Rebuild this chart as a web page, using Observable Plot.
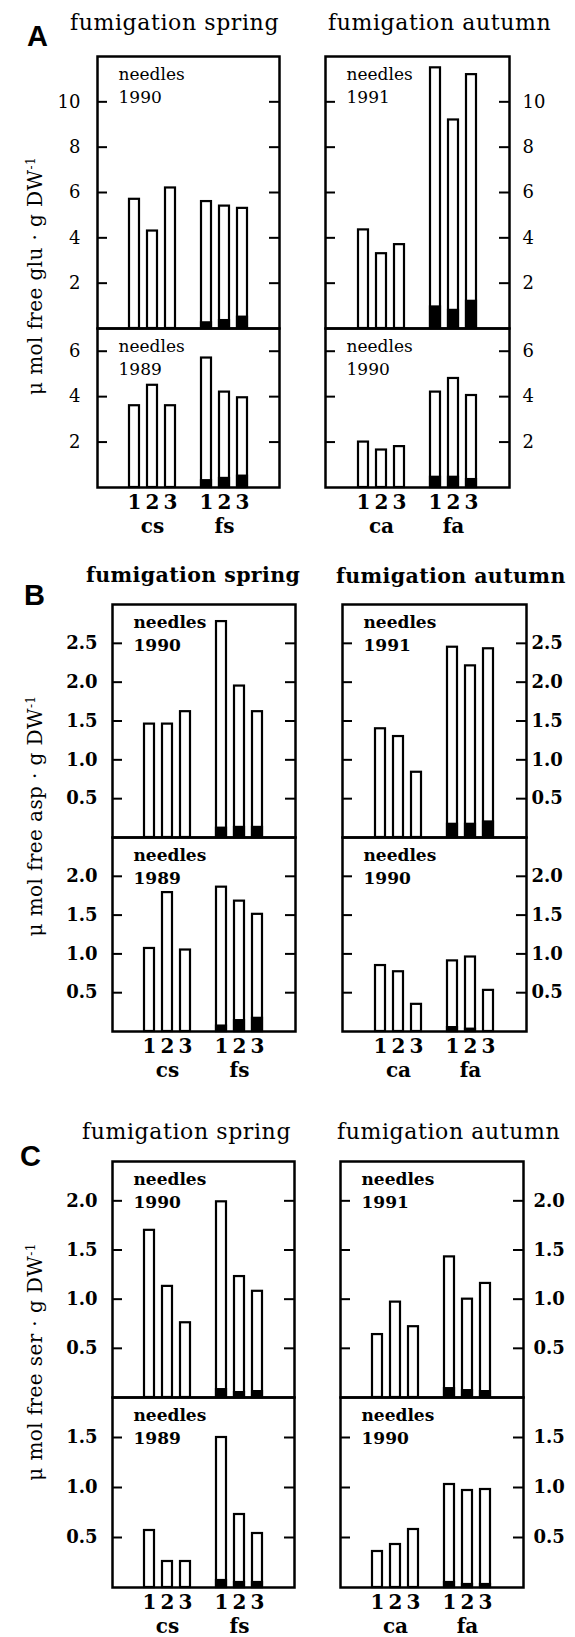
<!DOCTYPE html>
<html><head><meta charset="utf-8">
<script src="https://cdn.jsdelivr.net/npm/d3@7"></script>
<script src="https://cdn.jsdelivr.net/npm/@observablehq/plot@0.6"></script>
<style>
body{margin:0;background:#fff;}
#root{position:relative;width:575px;height:1637px;overflow:hidden;font-family:"DejaVu Serif",serif;color:#000;background:#fff;}
.abs{position:absolute;white-space:nowrap;}
.letter{font-family:"Liberation Sans",Arial,sans-serif;font-weight:bold;font-size:29px;line-height:1;}
.title{font-size:22px;letter-spacing:0.6px;line-height:1;}
.ylab{font-size:20px;letter-spacing:0.4px;text-align:center;width:320px;transform:rotate(-90deg);transform-origin:50% 50%;line-height:24px;height:24px;}
.ylab sup{font-size:12px;vertical-align:top;position:relative;top:-4px;}
svg{position:absolute;}
</style></head><body><div id="root"></div>
<script>
// ---------- data ----------
const treatments = ["1","2","3"];
const springGroups = ["cs","fs"];
const autumnGroups = ["ca","fa"];
const figureLetters = ["A","B","C"];
const aminoAcids = ["glu","asp","ser"];
const columnTitles = ["fumigation spring","fumigation autumn"];
const needleLabel = "needles";
const yearsSpring = ["1990","1989"];   // top, bottom
const yearsAutumn = ["1991","1990"];   // top, bottom

// glutamate (top: needles of current year, bottom: older needles)
const gluSpring1990 = [5.7, 4.3, 6.2, 5.6, 5.4, 5.3];
const gluSpring1990Black = [0, 0, 0, 0.25, 0.35, 0.5];
const gluAutumn1991 = [4.35, 3.3, 3.7, 11.5, 9.2, 11.2];
const gluAutumn1991Black = [0, 0, 0, 0.95, 0.8, 1.2];
const gluSpring1989 = [3.6, 4.5, 3.6, 5.7, 4.2, 3.95];
const gluSpring1989Black = [0, 0, 0, 0.3, 0.4, 0.5];
const gluAutumn1990 = [2.0, 1.65, 1.8, 4.2, 4.8, 4.05];
const gluAutumn1990Black = [0, 0, 0, 0.45, 0.45, 0.35];

// aspartate
const aspSpring1990 = [1.46, 1.46, 1.62, 2.78, 1.95, 1.62];
const aspSpring1990Black = [0, 0, 0, 0.12, 0.13, 0.13];
const aspAutumn1991 = [1.40, 1.30, 0.84, 2.45, 2.21, 2.43];
const aspAutumn1991Black = [0, 0, 0, 0.17, 0.17, 0.2];
const aspSpring1989 = [1.07, 1.79, 1.05, 1.86, 1.68, 1.51];
const aspSpring1989Black = [0, 0, 0, 0.07, 0.14, 0.17];
const aspAutumn1990 = [0.85, 0.77, 0.35, 0.91, 0.96, 0.53];
const aspAutumn1990Black = [0, 0, 0, 0.05, 0.03, 0];

// serine
const serSpring1990 = [1.70, 1.13, 0.76, 1.99, 1.23, 1.08];
const serSpring1990Black = [0, 0, 0, 0.08, 0.05, 0.06];
const serAutumn1991 = [0.64, 0.97, 0.72, 1.43, 1.00, 1.16];
const serAutumn1991Black = [0, 0, 0, 0.09, 0.07, 0.06];
const serSpring1989 = [0.57, 0.26, 0.26, 1.50, 0.73, 0.54];
const serSpring1989Black = [0, 0, 0, 0.07, 0.05, 0.05];
const serAutumn1990 = [0.36, 0.43, 0.58, 1.03, 0.97, 0.98];
const serAutumn1990Black = [0, 0, 0, 0.05, 0.03, 0.03];

// y domains and tick values
const gluDomainTop = [0, 12], gluDomainBottom = [0, 7];
const gluTicksTop = [2, 4, 6, 8, 10], gluTicksBottom = [2, 4, 6];
const aspDomainTop = [0, 3], aspDomainBottom = [0, 2.5];
const aspTicksTop = [0.5, 1.0, 1.5, 2.0, 2.5], aspTicksBottom = [0.5, 1.0, 1.5, 2.0];
const serDomainTop = [0, 2.4], serDomainBottom = [0, 1.9];
const serTicksTop = [0.5, 1.0, 1.5, 2.0], serTicksBottom = [0.5, 1.0, 1.5];

// ---------- layout ----------
const figs = [
  {acid: aminoAcids[0], letter: figureLetters[0], letterPos: [27, 22],
   titles: [[70, 12], [328, 12]], titleBold: false, tickBold: false, tickFmt: d => String(d),
   left: [97, 279], right: [325, 509], top: 56, mid: 328, bottom: 487, ylabY: 276,
   tickPadL: 17, tickPadR: 13,
   rows: [
     {sp: [gluSpring1990, gluSpring1990Black], au: [gluAutumn1991, gluAutumn1991Black], dom: gluDomainTop, ticks: gluTicksTop},
     {sp: [gluSpring1989, gluSpring1989Black], au: [gluAutumn1990, gluAutumn1990Black], dom: gluDomainBottom, ticks: gluTicksBottom}
   ]},
  {acid: aminoAcids[1], letter: figureLetters[1], letterPos: [24, 581],
   titles: [[86, 565], [336, 566]], titleBold: true, tickBold: true, tickFmt: d3.format(".1f"),
   left: [112, 295], right: [342, 526], top: 604, mid: 837, bottom: 1031, ylabY: 816,
   tickPadL: 15, tickPadR: 5,
   rows: [
     {sp: [aspSpring1990, aspSpring1990Black], au: [aspAutumn1991, aspAutumn1991Black], dom: aspDomainTop, ticks: aspTicksTop},
     {sp: [aspSpring1989, aspSpring1989Black], au: [aspAutumn1990, aspAutumn1990Black], dom: aspDomainBottom, ticks: aspTicksBottom}
   ]},
  {acid: aminoAcids[2], letter: figureLetters[2], letterPos: [20, 1142],
   titles: [[82, 1121], [337, 1121]], titleBold: false, tickBold: true, tickFmt: d3.format(".1f"),
   left: [112, 294], right: [340, 523], top: 1161, mid: 1397, bottom: 1587, ylabY: 1362,
   tickPadL: 15, tickPadR: 10,
   rows: [
     {sp: [serSpring1990, serSpring1990Black], au: [serAutumn1991, serAutumn1991Black], dom: serDomainTop, ticks: serTicksTop},
     {sp: [serSpring1989, serSpring1989Black], au: [serAutumn1990, serAutumn1990Black], dom: serDomainBottom, ticks: serTicksBottom}
   ]}
];

const root = document.getElementById("root");
function addDiv(cls, html, x, y, extra) {
  const d = document.createElement("div");
  d.className = "abs " + cls;
  d.innerHTML = html;
  d.style.left = x + "px"; d.style.top = y + "px";
  if (extra) Object.assign(d.style, extra);
  root.appendChild(d);
  return d;
}

function panel(opts) {
  const {values, black, groups, domain, ticks, side, w, h, showX, fmt, bold, year, tickPad} = opts;
  const barKeys = [];
  groups.forEach(g => treatments.forEach(t => barKeys.push(g + t)));
  const xDomain = [...barKeys.slice(0, 3), "gap", ...barKeys.slice(3)];
  const data = values.map((v, i) => ({key: barKeys[i], v, b: black[i]}));
  const mL = side === "left" ? 60 : 2, mR = side === "right" ? 60 : 2;
  const mT = 2, mB = showX ? 60 : 2;
  const fw = bold ? "bold" : "normal";
  const marks = [
    Plot.barY(data, {x: "key", y: "v", fill: "white", stroke: "black", strokeWidth: 2.2}),
    Plot.barY(data.filter(d => d.b > 0), {x: "key", y: "b", fill: "black", stroke: "black", strokeWidth: 2.2}),
    Plot.ruleY(ticks, {insetRight: w - 10, stroke: "black", strokeWidth: 2}),
    Plot.ruleY(ticks, {insetLeft: w - 10, stroke: "black", strokeWidth: 2}),
    Plot.axisY(ticks, {anchor: side, tickSize: 0, tickPadding: tickPad, tickFormat: fmt, fontSize: 18, fontWeight: fw, fill: "black", label: null}),
    Plot.frame({stroke: "black", strokeWidth: 2.5}),
    Plot.text([needleLabel + "\n" + year], {text: d => d, frameAnchor: "top-left", dx: 21, dy: 7, lineAnchor: "top", textAnchor: "start", fontSize: 17, lineHeight: 1.35, letterSpacing: 0.8, fontWeight: bold ? "bold" : "normal", fill: "black"})
  ];
  if (showX) {
    marks.push(Plot.axisX(barKeys, {anchor: "bottom", tickSize: 0, tickPadding: 7, tickFormat: k => k.slice(-1), fontSize: 20, fontWeight: "bold", fill: "black", label: null}));
    marks.push(Plot.text(groups, {x: g => g + treatments[1], text: d => d, frameAnchor: "bottom", lineAnchor: "bottom", dy: 45, fontSize: 20, fontWeight: "bold", fill: "black"}));
  }
  const svg = Plot.plot({
    width: mL + w + mR, height: mT + h + mB,
    marginLeft: mL, marginRight: mR, marginTop: mT, marginBottom: mB,
    x: {type: "band", domain: xDomain, paddingInner: 0.42, paddingOuter: 1.71, axis: null, label: null},
    y: {domain, axis: null, label: null},
    style: {fontFamily: "'DejaVu Serif', serif", overflow: "visible", background: "transparent", color: "black"},
    marks
  });
  return {svg, mL, mT};
}

figs.forEach(f => {
  addDiv("letter", f.letter, f.letterPos[0], f.letterPos[1]);
  columnTitles.forEach((t, i) => addDiv("title", t, f.titles[i][0], f.titles[i][1],
    f.titleBold ? {fontWeight: "bold", fontSize: "20.5px", letterSpacing: "0.4px"} : {}));
  addDiv("ylab", "\u03bc mol free " + f.acid + " \u00b7 g DW<sup>-1</sup>", 35 - 160, f.ylabY - 12);
  f.rows.forEach((r, ri) => {
    const y0 = ri === 0 ? f.top : f.mid;
    const y1 = ri === 0 ? f.mid : f.bottom;
    const h = y1 - y0;
    [["left", f.left, r.sp, springGroups, yearsSpring[ri]], ["right", f.right, r.au, autumnGroups, yearsAutumn[ri]]].forEach(([side, xr, vals, groups, year]) => {
      const w = xr[1] - xr[0];
      const p = panel({values: vals[0], black: vals[1], groups, domain: r.dom, ticks: r.ticks, side, w, h,
        showX: ri === 1, fmt: f.tickFmt, bold: f.tickBold, year, tickPad: side === "left" ? f.tickPadL : f.tickPadR});
      p.svg.style.position = "absolute";
      p.svg.style.left = (xr[0] - p.mL) + "px";
      p.svg.style.top = (y0 - p.mT) + "px";
      root.appendChild(p.svg);
    });
  });
});
</script></body></html>
